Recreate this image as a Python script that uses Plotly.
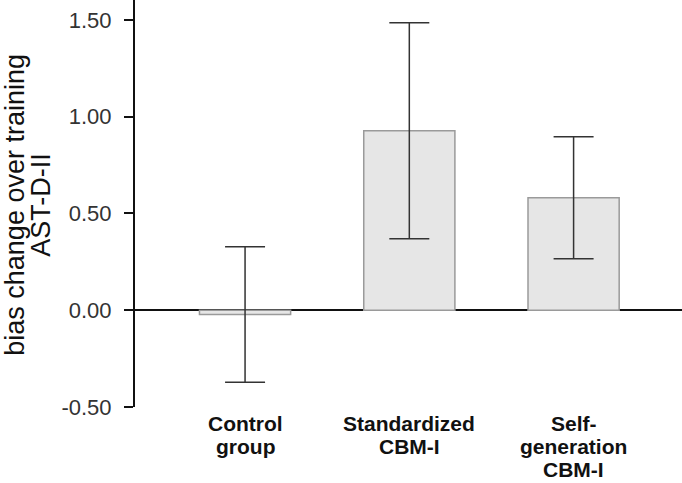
import plotly.graph_objects as go

categories = ["Control<br>group", "Standardized<br>CBM-I", "Self-<br>generation<br>CBM-I"]
means = [-0.022, 0.928, 0.581]
errors = [0.35, 0.558, 0.315]
tick_vals = [-0.5, 0.0, 0.5, 1.0, 1.5]
tick_text = ["-0.50", "0.00", "0.50", "1.00", "1.50"]

fig = go.Figure()
fig.add_trace(go.Bar(
    x=[0, 1, 2], y=means, width=0.555,
    marker=dict(color="#e6e6e6", line=dict(color="#9a9a9a", width=1.5)),
    error_y=dict(type="data", array=errors, visible=True, color="#333333",
                 thickness=1.5, width=20),
))

font = "Liberation Sans, Arial, sans-serif"
plot_h = 407
fig.update_layout(
    width=682, height=483,
    margin=dict(l=135, r=0, t=0, b=483 - plot_h),
    plot_bgcolor="white", paper_bgcolor="white",
    showlegend=False,
    font=dict(family=font, color="#222222"),
    xaxis=dict(range=[-0.67, 2.66], tickvals=[0, 1, 2], showticklabels=False,
               showline=False, showgrid=False, zeroline=False, ticks="",
               automargin=False),
    yaxis=dict(range=[-0.5, 1.603], tickvals=tick_vals, ticktext=tick_text,
               showline=True, linecolor="#111111", linewidth=2,
               ticks="outside", ticklen=9, tickwidth=1.5, tickcolor="#111111",
               showgrid=False, zeroline=True, zerolinecolor="#111111", zerolinewidth=1.5,
               tickfont=dict(size=22, color="#333333"), ticklabelstandoff=8,
               layer="above traces", automargin=False),
)

# category labels, one line at a time
for i, cat in enumerate(categories):
    for j, line in enumerate(cat.split("<br>")):
        yc = 423 + 23 * j
        fig.add_annotation(text="<b>" + line + "</b>", xref="x", yref="paper",
                           x=i, y=(plot_h - yc) / plot_h, xanchor="center", yanchor="middle",
                           showarrow=False, borderpad=0,
                           font=dict(size=21, color="#111111", family=font))

fig.add_annotation(text="bias change over training", textangle=-90,
                   xref="paper", yref="paper", x=(15 - 135) / 547, y=0.497,
                   xanchor="center", yanchor="middle", showarrow=False,
                   font=dict(size=27, color="#111111", family=font))
fig.add_annotation(text="AST-D-II", textangle=-90,
                   xref="paper", yref="paper", x=(41 - 135) / 547, y=0.497,
                   xanchor="center", yanchor="middle", showarrow=False,
                   font=dict(size=27, color="#111111", family=font))

fig.write_html("out.html", post_script="document.body.style.margin='0';",
               config={"displayModeBar": False})
